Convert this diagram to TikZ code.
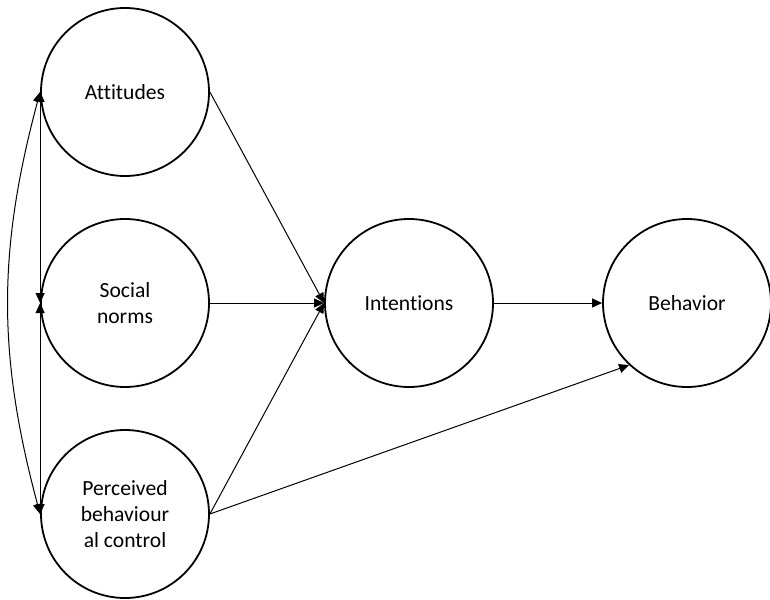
\documentclass[tikz,border=0pt]{standalone}
\usepackage{fontspec}
\setmainfont{Carlito}[Ligatures=CommonOff]
\usetikzlibrary{arrows.meta, positioning}

\tikzset{
  construct/.style={draw, circle, line width=0.9pt, minimum size=84pt, inner sep=0pt,
    align=center, font=\fontsize{10.8}{13}\selectfont},
  link/.style={-{Triangle[length=5pt, width=4.5pt]}, line width=0.5pt},
  covar/.style={{Triangle[length=5pt, width=4.5pt]}-{Triangle[length=5pt, width=4.5pt]}, line width=0.5pt}
}

\begin{document}
\begin{tikzpicture}[x=0.5pt, y=-0.5pt]
  \useasboundingbox (0,0) rectangle (770,599);

  % The three predictors
  \node[construct] (att) at (125, 92) {Attitudes};
  \node[construct] (soc) at (125, 303) {Social\\norms};
  \node[construct] (per) at (125, 514) {Perceived\\behaviour\\al control};

  % Intention and behaviour
  \node[construct] (int) at (409, 303) {Intentions};
  \node[construct] (beh) at (687, 303) {Behavior};

  % Paths
  \draw[link] (att.east) -- (int.west);
  \draw[link] (soc) -- (int);
  \draw[link] (per.east) -- (int.west);
  \draw[link] (int) -- (beh);
  \draw[link] (per.east) -- (beh.227);

  % Correlations
  \draw[covar] (att.west) -- (soc.west);
  \draw[covar] (soc.west) -- (per.west);
  \draw[covar] (att.west) to[bend right=15] (per.west);
\end{tikzpicture}
\end{document}
